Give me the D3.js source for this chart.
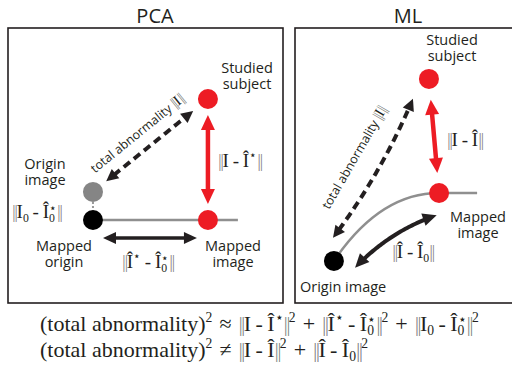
<!DOCTYPE html>
<html>
<head>
<meta charset="utf-8">
<script src="https://cdn.jsdelivr.net/npm/d3@7"></script>
<style>
  body { margin: 0; background: #fff; }
  svg { display: block; }
  text { white-space: pre; }
</style>
</head>
<body>
<svg id="fig" width="512" height="372"></svg>
<script>
// ---- Data -----------------------------------------------------------------
// Panel titles
const panelTitles = ["PCA", "ML"];

// PCA panel: point positions in panel units (0–100 across, 0–100 down)
const pcaNodeNames = ["subject", "origin", "mappedOrigin", "mapped"];
const pcaNodeX = [72.7, 30.9, 30.9, 72.7];
const pcaNodeY = [25.8, 59.6, 69.8, 69.8];
const pcaAxisEndX = 83.6;            // far end of the principal axis

// ML panel: point positions in panel units
const mlNodeNames = ["subject", "mapped", "origin"];
const mlNodeX = [62.3, 67.0, 18.1];
const mlNodeY = [18.5, 60.0, 84.7];
// learned manifold: start, quadratic control, mapped point, tail end
const mlManifoldX = [18.1, 39.5, 67.0, 84.7];
const mlManifoldY = [84.7, 60.0, 60.0, 60.0];

// Text labels
const pcaLabels = [["Studied", "subject"], ["Origin", "image"], ["Mapped", "origin"], ["Mapped", "image"]];
const mlLabels = [["Studied", "subject"], ["Mapped", "image"], ["Origin image"]];

// ---- Styling --------------------------------------------------------------
const INK = "#231F20", RED = "#ED1C24", GREY = "#858585", AXIS = "#8F8F8F";
const SANS = "'Open Sans', 'Noto Sans', sans-serif";
const SERIF = "'Liberation Serif', 'DejaVu Serif', serif";
const R = 10;

const svg = d3.select("#fig");

// Panel frames and the scales that map panel units onto them
const frames = [
  { x0: 8, x1: 283, y0: 28, y1: 303, titleX: 155 },
  { x0: 295, x1: 516, y0: 28, y1: 303, titleX: 408 }
];
const scales = frames.map((f, i) => ({
  x: d3.scaleLinear().domain([0, 100]).range([f.x0, i === 0 ? f.x1 : 510]),
  y: d3.scaleLinear().domain([0, 100]).range([f.y0, f.y1])
}));

frames.forEach((f, i) => {
  svg.append("rect")
    .attr("x", f.x0).attr("y", f.y0)
    .attr("width", f.x1 - f.x0).attr("height", f.y1 - f.y0)
    .attr("fill", "none").attr("stroke", INK).attr("stroke-width", 1.6);
  svg.append("text")
    .attr("x", f.titleX).attr("y", 23)
    .attr("text-anchor", "middle")
    .attr("font-family", SANS).attr("font-size", 20)
    .attr("fill", INK).text(panelTitles[i]);
});

// ---- Helpers --------------------------------------------------------------
function arrowHead(g, tip, dir, len, wid, color) {
  const px = -dir[1], py = dir[0];
  const bx = tip[0] - dir[0] * len, by = tip[1] - dir[1] * len;
  g.append("path")
    .attr("d", `M${tip[0]},${tip[1]}L${bx + px * wid / 2},${by + py * wid / 2}L${bx - px * wid / 2},${by - py * wid / 2}Z`)
    .attr("fill", color);
}

// Double-headed arrow between two points, optionally offset sideways and bent
function doubleArrow(g, A, B, s) {
  const dx = B[0] - A[0], dy = B[1] - A[1], L = Math.hypot(dx, dy);
  const u = [dx / L, dy / L], n = [u[1], -u[0]];
  const offA = s.offFrom || 0, offB = s.offTo || 0, bend = s.bend || 0;
  const pA = [A[0] + u[0] * s.gapFrom + n[0] * offA, A[1] + u[1] * s.gapFrom + n[1] * offA];
  const pB = [B[0] - u[0] * s.gapTo + n[0] * offB, B[1] - u[1] * s.gapTo + n[1] * offB];
  const mid = [(pA[0] + pB[0]) / 2, (pA[1] + pB[1]) / 2];
  const c = [mid[0] + n[0] * 2 * bend, mid[1] + n[1] * 2 * bend];
  const q = t => [
    (1 - t) * (1 - t) * pA[0] + 2 * (1 - t) * t * c[0] + t * t * pB[0],
    (1 - t) * (1 - t) * pA[1] + 2 * (1 - t) * t * c[1] + t * t * pB[1]
  ];
  const chord = Math.hypot(pB[0] - pA[0], pB[1] - pA[1]);
  const t0 = (s.headLen * 0.8) / chord, t1 = 1 - t0;
  const pts = d3.range(0, 41).map(i => q(t0 + (t1 - t0) * i / 40));
  g.append("path")
    .attr("d", d3.line()(pts))
    .attr("fill", "none").attr("stroke", s.color)
    .attr("stroke-width", s.width)
    .attr("stroke-dasharray", s.dash || null);
  const unit = v => { const l = Math.hypot(v[0], v[1]); return [v[0] / l, v[1] / l]; };
  arrowHead(g, pA, unit([pA[0] - c[0], pA[1] - c[1]]), s.headLen, s.headWid, s.color);
  arrowHead(g, pB, unit([pB[0] - c[0], pB[1] - c[1]]), s.headLen, s.headWid, s.color);
}

// Serif formula with superscripts, subscripts, stacked sub/superscripts,
// norm bars and spaced operators
function mathText(g, x, y, segs, size, anchor, opPad) {
  const t = g.append("text")
    .attr("x", x).attr("y", y)
    .attr("font-family", SERIF).attr("font-size", size)
    .attr("text-anchor", anchor || "start").attr("fill", INK);
  let shift = 0, pendingDx = 0;
  segs.forEach(([kind, str]) => {
    let target = 0, fs = size, dx = pendingDx, bar = false;
    pendingDx = 0;
    if (kind === "sup") { target = -0.42 * size; fs = 0.62 * size; }
    else if (kind === "sub") { target = 0.2 * size; fs = 0.62 * size; }
    else if (kind === "over") { target = -0.3 * size; fs = 0.62 * size; dx += -0.31 * size; }
    else if (kind === "bar") { bar = true; }
    else if (kind === "op") { dx += opPad || 0; pendingDx = opPad || 0; }
    const ts = t.append("tspan")
      .attr("dy", (target - shift).toFixed(2))
      .attr("font-size", fs).text(bar ? "||" : str);
    if (dx) ts.attr("dx", dx.toFixed(2));
    if (bar) ts.attr("fill-opacity", 0.55).attr("letter-spacing", -0.08 * size);
    shift = target;
  });
  return t;
}

function stackedLabel(g, x, y, lines, size, anchor) {
  const t = g.append("text")
    .attr("font-family", SANS).attr("font-size", size)
    .attr("text-anchor", anchor || "middle").attr("fill", INK);
  lines.forEach((line, i) => {
    t.append("tspan").attr("x", x).attr("y", y + i * 15.5).text(line);
  });
}

function slantedLabel(g, cx, cy, angle) {
  const lab = g.append("text")
    .attr("transform", `translate(${cx},${cy}) rotate(${angle})`)
    .attr("text-anchor", "middle").attr("fill", INK)
    .attr("font-family", SANS).attr("font-size", 12.5);
  lab.append("tspan").text("total abnormality ");
  lab.append("tspan").attr("font-family", SERIF).attr("font-size", 15)
    .attr("fill-opacity", 0.55).attr("letter-spacing", -1.2).text("||");
  lab.append("tspan").attr("font-family", SERIF).attr("font-size", 15).text("I");
  lab.append("tspan").attr("font-family", SERIF).attr("font-size", 15)
    .attr("fill-opacity", 0.55).attr("letter-spacing", -1.2).text("||");
}

const SP = "\u2009-\u2009";

// ---- PCA panel ------------------------------------------------------------
{
  const g = svg.append("g");
  const { x, y } = scales[0];
  const P = {};
  pcaNodeNames.forEach((k, i) => { P[k] = [x(pcaNodeX[i]), y(pcaNodeY[i])]; });

  // principal axis
  g.append("line")
    .attr("x1", P.mappedOrigin[0]).attr("y1", P.mappedOrigin[1])
    .attr("x2", x(pcaAxisEndX)).attr("y2", P.mappedOrigin[1])
    .attr("stroke", AXIS).attr("stroke-width", 2.5);
  // short dotted link between origin image and its projection
  g.append("line")
    .attr("x1", P.origin[0]).attr("y1", P.origin[1] + R)
    .attr("x2", P.mappedOrigin[0]).attr("y2", P.mappedOrigin[1] - R)
    .attr("stroke", "#9A9A9A").attr("stroke-width", 2).attr("stroke-dasharray", "2,2");

  doubleArrow(g, P.subject, P.mapped, { gapFrom: 16, gapTo: 16, width: 4.5, headLen: 15, headWid: 14, color: RED });
  doubleArrow(g, P.origin, P.subject, { gapFrom: 17, gapTo: 19, width: 4, headLen: 12, headWid: 12, color: INK, dash: "8,5" });
  doubleArrow(g, P.mappedOrigin, P.mapped, { gapFrom: 10, gapTo: 11, offFrom: -18, offTo: -18, width: 3.5, headLen: 13, headWid: 12, color: INK });

  const fills = { subject: RED, origin: GREY, mappedOrigin: "#000", mapped: RED };
  g.selectAll("circle").data(pcaNodeNames).join("circle")
    .attr("cx", d => P[d][0]).attr("cy", d => P[d][1]).attr("r", R)
    .attr("fill", d => fills[d]);

  stackedLabel(g, 247, 73, pcaLabels[0], 14.5);
  stackedLabel(g, 45, 169, pcaLabels[1], 14.5);
  stackedLabel(g, 64, 251, pcaLabels[2], 14.5);
  stackedLabel(g, 233, 251, pcaLabels[3], 14.5);

  mathText(g, 218, 167, [["bar"], ["n", "I" + SP + "Î"], ["sup", "⋆"], ["bar"]], 19);
  mathText(g, 12, 218, [["bar"], ["n", "I"], ["sub", "0"], ["n", SP + "Î"], ["sub", "0"], ["over", "⋆"], ["bar"]], 19);
  mathText(g, 148, 268, [["bar"], ["n", "Î"], ["sup", "⋆"], ["n", SP + "Î"], ["sub", "0"], ["over", "⋆"], ["bar"]], 19, "middle");

  slantedLabel(g, 140, 137, -39);
}

// ---- ML panel -------------------------------------------------------------
{
  const g = svg.append("g");
  const { x, y } = scales[1];
  const P = {};
  mlNodeNames.forEach((k, i) => { P[k] = [x(mlNodeX[i]), y(mlNodeY[i])]; });

  const m = mlManifoldX.map((v, i) => [x(v), y(mlManifoldY[i])]);
  const path = d3.path();
  path.moveTo(m[0][0], m[0][1]);
  path.quadraticCurveTo(m[1][0], m[1][1], m[2][0], m[2][1]);
  path.lineTo(m[3][0], m[3][1]);
  g.append("path").attr("d", path.toString())
    .attr("fill", "none").attr("stroke", AXIS).attr("stroke-width", 2.5);

  doubleArrow(g, P.subject, P.mapped, { gapFrom: 21, gapTo: 20, width: 4.5, headLen: 15, headWid: 14, color: RED });
  doubleArrow(g, P.origin, P.subject, { gapFrom: 20, gapTo: 25, offFrom: 11.5, offTo: 5, bend: -5, width: 4, headLen: 12, headWid: 12, color: INK, dash: "8,5" });
  doubleArrow(g, P.origin, P.mapped, { gapFrom: 14, gapTo: 14, offFrom: -17.3, offTo: -17.3, bend: 6, width: 4, headLen: 14, headWid: 13, color: INK });

  const fills = { subject: RED, mapped: RED, origin: "#000" };
  g.selectAll("circle").data(mlNodeNames).join("circle")
    .attr("cx", d => P[d][0]).attr("cy", d => P[d][1]).attr("r", R)
    .attr("fill", d => fills[d]);

  stackedLabel(g, 452, 45, mlLabels[0], 14.5);
  stackedLabel(g, 478, 222, mlLabels[1], 14.5);
  stackedLabel(g, 300, 292, mlLabels[2], 14.5, "start");

  mathText(g, 447, 146, [["bar"], ["n", "I" + SP + "Î"], ["bar"]], 19);
  mathText(g, 413, 258, [["bar"], ["n", "Î" + SP + "Î"], ["sub", "0"], ["bar"]], 19, "middle");

  slantedLabel(g, 358, 160, -60);
}

// ---- Formulas beneath the panels -----------------------------------------
{
  const g = svg.append("g");
  mathText(g, 40, 331, [
    ["n", "(total abnormality)"], ["sup", "2"], ["op", " ≈ "],
    ["bar"], ["n", "I" + SP + "Î"], ["sup", "⋆"], ["bar"], ["sup", "2"], ["op", " + "],
    ["bar"], ["n", "Î"], ["sup", "⋆"], ["n", SP + "Î"], ["sub", "0"], ["over", "⋆"], ["bar"], ["sup", "2"], ["op", " + "],
    ["bar"], ["n", "I"], ["sub", "0"], ["n", SP + "Î"], ["sub", "0"], ["over", "⋆"], ["bar"], ["sup", "2"]
  ], 22, "start", 1.5);
  mathText(g, 40, 357, [
    ["n", "(total abnormality)"], ["sup", "2"], ["op", " ≠ "],
    ["bar"], ["n", "I" + SP + "Î"], ["bar"], ["sup", "2"], ["op", " + "],
    ["bar"], ["n", "Î" + SP + "Î"], ["sub", "0"], ["bar"], ["sup", "2"]
  ], 22, "start", 1.5);
}
</script>
</body>
</html>
